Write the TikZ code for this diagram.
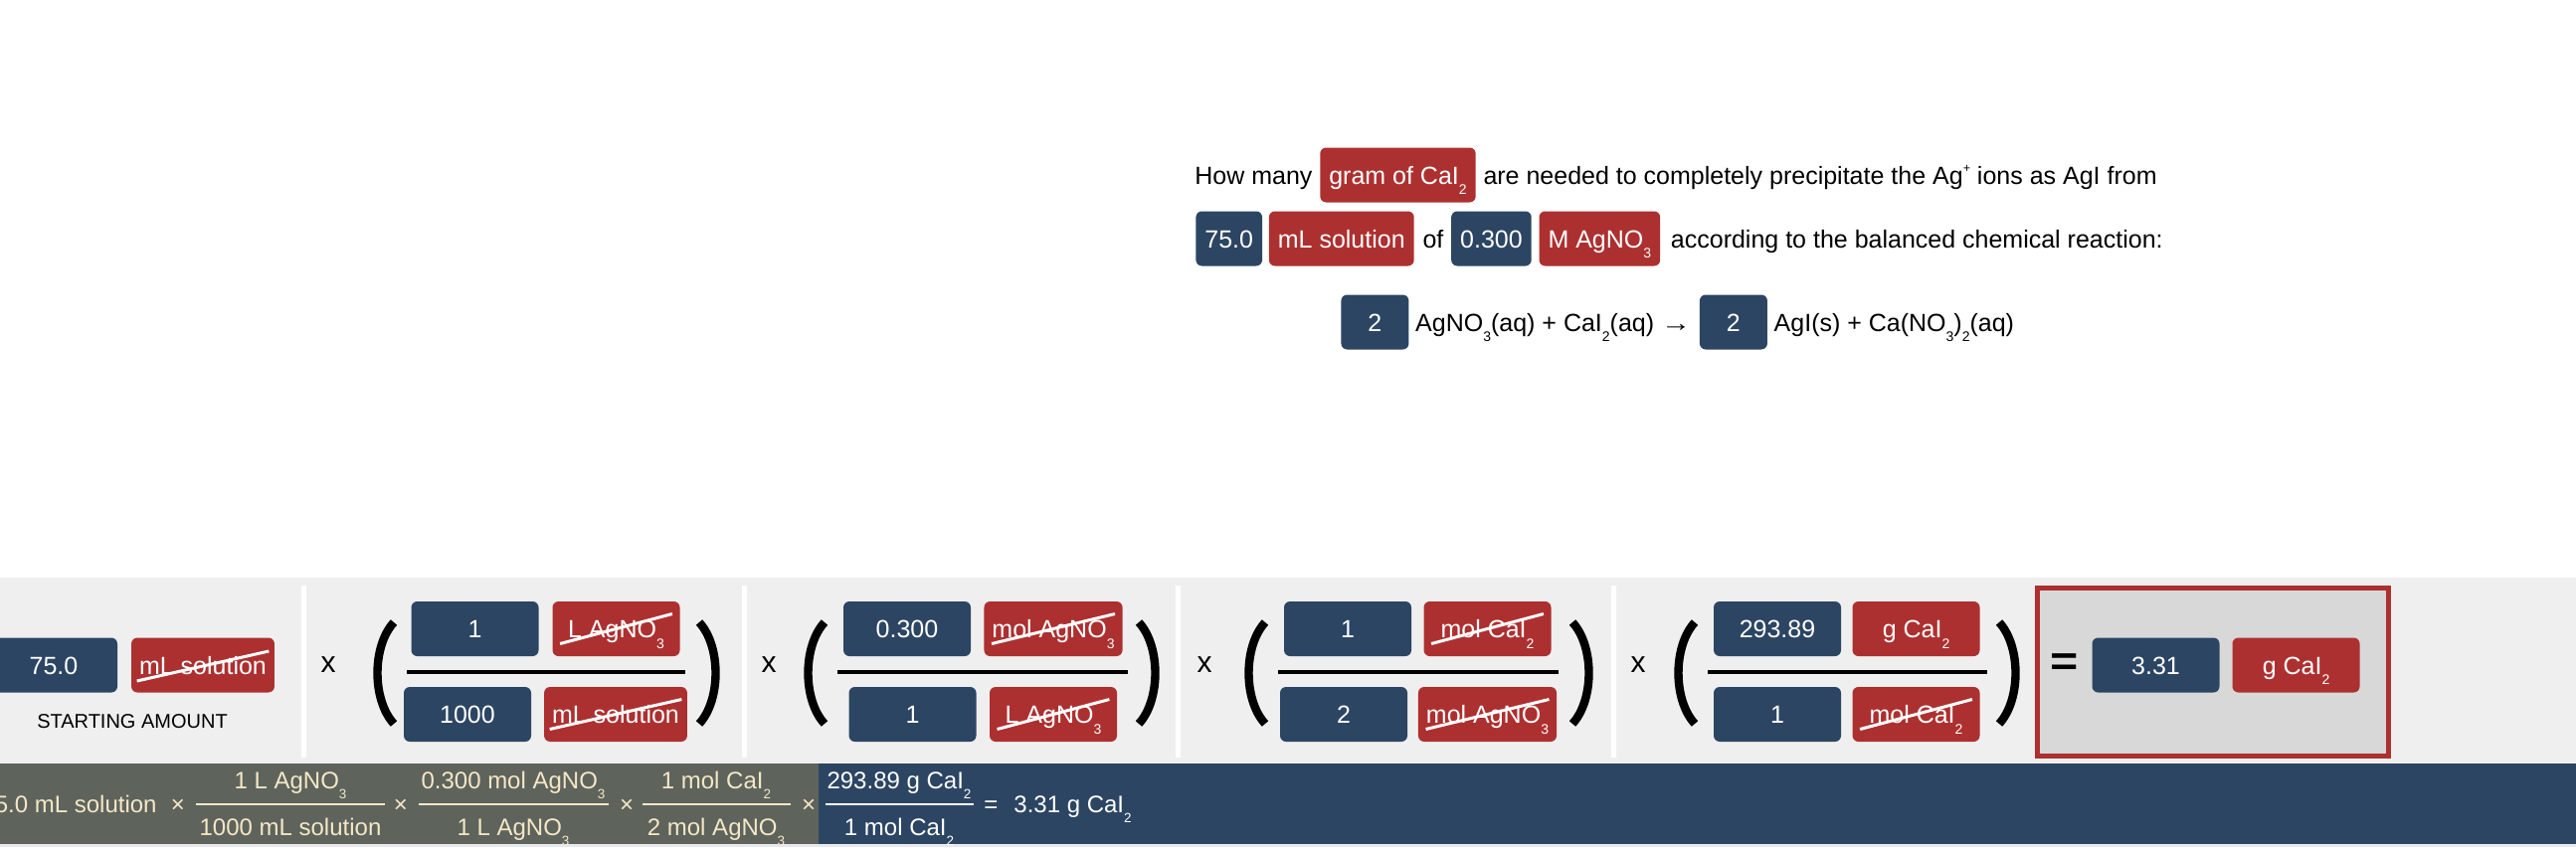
\documentclass[tikz,border=0pt]{standalone}
\usepackage{graphicx}
\usepackage{fontspec}
\setmainfont{Liberation Sans}
\usetikzlibrary{positioning}
\definecolor{cblue}{HTML}{2C4563}
\definecolor{cred}{HTML}{AD3030}
\definecolor{cband}{HTML}{EFEFEF}
\definecolor{cres}{HTML}{D8D8D8}
\definecolor{cgg}{HTML}{5E645C}
\definecolor{ccream}{HTML}{F5E7C6}
\definecolor{cstrip}{HTML}{E6EAEE}
\newcommand\csub[1]{\raisebox{-0.42em}{\scalebox{0.56}{#1}}}
\newcommand\csup[1]{\raisebox{0.45em}{\scalebox{0.5}{#1}}}
\newcommand\larr{\scalebox{1.2}[1]{→}}
\tikzset{
  txt/.style={inner sep=0pt, font=\fontsize{12.5pt}{15pt}\selectfont, text height=9pt, text depth=0pt},
  bx/.style={txt, rounded corners=3pt, text=white, minimum height=27.5pt, inner xsep=4.5pt},
  bb/.style={bx, fill=cblue},
  rb/.style={bx, fill=cred},
  fb/.style={minimum width=64pt, inner xsep=4pt},
  strike/.style={draw=white, line width=1.5pt},
  parenline/.style={line width=4.2pt, black},
  fracl/.style={line width=2pt, black},
  bt/.style={inner sep=0pt, font=\fontsize{12pt}{14pt}\selectfont, text=ccream},
  btw/.style={bt, text=white},
  mult/.style={inner sep=0pt, font=\fontsize{15pt}{18pt}\selectfont},
  lparen/.pic={\draw[parenline] (23,-51) .. controls (1,-27) and (1,27) .. (23,51);},
  rparen/.pic={\draw[parenline] (4,-51) .. controls (26,-27) and (26,27) .. (4,51);},
}
\begin{document}
\begin{tikzpicture}[x=0.5pt,y=-0.5pt]
\useasboundingbox (0,0) rectangle (2590,852);
\fill[white] (0,0) rectangle (2590,852);

% ---------- question ----------
\node[txt, anchor=west] (q1) at (1201,176) {How many};
\node[rb, right=3.5pt of q1] (q2) {gram of CaI\csub{2}};
\node[txt, right=3.5pt of q2] (q3) {are needed to completely precipitate the Ag\csup{+} ions as AgI from};

\node[bb, anchor=west] (p1) at (1202,240) {75.0};
\node[rb, right=3pt of p1] (p2) {mL solution};
\node[txt, right=4pt of p2] (p3) {of};
\node[bb, right=3.5pt of p3] (p4) {0.300};
\node[rb, right=3.5pt of p4] (p5) {M AgNO\csub{3}};
\node[txt, right=5pt of p5] (p6) {according to the balanced chemical reaction:};

\node[bb, minimum width=34pt, anchor=west] (r1) at (1348,324) {2};
\node[txt, right=3pt of r1] (r2) {AgNO\csub{3}(aq) + CaI\csub{2}(aq) \larr};
\node[bb, minimum width=34pt, right=4pt of r2] (r3) {2};
\node[txt, right=3pt of r3] (r4) {AgI(s) + Ca(NO\csub{3})\csub{2}(aq)};

% ---------- calculation band ----------
\fill[cband] (0,581) rectangle (2590,768);
\foreach \dx in {305,748,1184,1622} \fill[white] (\dx-2.5,589) rectangle (\dx+2.5,762);

\node[bb, fb] (s1) at (54,669) {75.0};
\node[rb, fb] (s2) at (204,669) {mL solution};
\draw[strike] ([shift={(6,16)}]s2.west) -- ([shift={(-6,-14)}]s2.east);
\node[inner sep=0pt, font=\fontsize{10pt}{12pt}\selectfont] (st) at (133,726) {STARTING AMOUNT};

% fraction 1
\node[mult] (x1) at (330,669) {x};
\pic at (373,677) {lparen};
\node[bb, fb] (f1a) at (477.5,632.5) {1};
\node[rb, fb] (f1b) at (619.5,632.5) {L AgNO\csub{3}};
\node[bb, fb] (f1c) at (470,718.5) {1000};
\node[rb, fb] (f1d) at (619,718.5) {mL solution};
\draw[strike] ([shift={(8,15)}]f1b.west) -- ([shift={(-8,-15)}]f1b.east);
\draw[strike] ([shift={(6,15)}]f1d.west) -- ([shift={(-6,-15)}]f1d.east);
\draw[fracl] (409,676) -- (689,676);
\pic at (699,677) {rparen};

% fraction 2
\node[mult] (x2) at (773,669) {x};
\pic at (806,677) {lparen};
\node[bb, fb] (f2a) at (912,632.5) {0.300};
\node[rb, fb] (f2b) at (1059,632.5) {mol AgNO\csub{3}};
\node[bb, fb] (f2c) at (917.5,718.5) {1};
\node[rb, fb] (f2d) at (1059,718.5) {L AgNO\csub{3}};
\draw[strike] ([shift={(8,15)}]f2b.west) -- ([shift={(-8,-15)}]f2b.east);
\draw[strike] ([shift={(8,15)}]f2d.west) -- ([shift={(-8,-15)}]f2d.east);
\draw[fracl] (842,676) -- (1134,676);
\pic at (1141,677) {rparen};

% fraction 3
\node[mult] (x3) at (1211,669) {x};
\pic at (1249,677) {lparen};
\node[bb, fb] (f3a) at (1355,632.5) {1};
\node[rb, fb] (f3b) at (1495.5,632.5) {mol CaI\csub{2}};
\node[bb, fb] (f3c) at (1351,718.5) {2};
\node[rb, fb] (f3d) at (1495.5,718.5) {mol AgNO\csub{3}};
\draw[strike] ([shift={(8,15)}]f3b.west) -- ([shift={(-8,-15)}]f3b.east);
\draw[strike] ([shift={(8,15)}]f3d.west) -- ([shift={(-8,-15)}]f3d.east);
\draw[fracl] (1285,676) -- (1567,676);
\pic at (1577,677) {rparen};

% fraction 4
\node[mult] (x4) at (1647,669) {x};
\pic at (1681,677) {lparen};
\node[bb, fb] (f4a) at (1787,632.5) {293.89};
\node[rb, fb] (f4b) at (1926.5,632.5) {g CaI\csub{2}};
\node[bb, fb] (f4c) at (1787,718.5) {1};
\node[rb, fb] (f4d) at (1926.5,718.5) {mol CaI\csub{2}};
\draw[strike] ([shift={(8,15)}]f4d.west) -- ([shift={(-8,-15)}]f4d.east);
\draw[fracl] (1717,676) -- (1998,676);
\pic at (2006,677) {rparen};

% result
\draw[cred, line width=2.5pt, fill=cres] (2048.5,591.5) rectangle (2401.5,760.5);
\node[inner sep=0pt, font=\bfseries\fontsize{21pt}{21pt}\selectfont] (eq) at (2076,669) {\scalebox{1.15}[1]{=}};
\node[bb, fb] (ra) at (2167.5,669) {3.31};
\node[rb, fb] (rr) at (2308.5,669) {g CaI\csub{2}};

% ---------- summary bar ----------
\fill[cgg] (0,768) rectangle (823,849);
\fill[cblue] (823,768) rectangle (2590,849);
\fill[cstrip] (0,849) rectangle (2590,852);

\node[bt, anchor=base east] (b0) at (158,817) {75.0 mL solution};
\node[bt, anchor=base] (bx1) at (179,817) {×};
\node[bt, anchor=base] (b1n) at (292,793) {1 L AgNO\csub{3}};
\node[bt, anchor=base] (b1d) at (292,840) {1000 mL solution};
\draw[ccream, line width=1pt] (197,809) -- (387,809);
\node[bt, anchor=base] (bx2) at (403,817) {×};
\node[bt, anchor=base] (b2n) at (516,793) {0.300 mol AgNO\csub{3}};
\node[bt, anchor=base] (b2d) at (516,840) {1 L AgNO\csub{3}};
\draw[ccream, line width=1pt] (421,809) -- (612,809);
\node[bt, anchor=base] (bx3) at (630,817) {×};
\node[bt, anchor=base] (b3n) at (720,793) {1 mol CaI\csub{2}};
\node[bt, anchor=base] (b3d) at (720,840) {2 mol AgNO\csub{3}};
\draw[ccream, line width=1pt] (646,809) -- (795,809);
\node[bt, anchor=base] (bx4) at (813,817) {×};
\node[btw, anchor=base] (b4n) at (904,793) {293.89 g CaI\csub{2}};
\node[btw, anchor=base] (b4d) at (904,840) {1 mol CaI\csub{2}};
\draw[white, line width=1pt] (830,809) -- (979,809);
\node[btw, anchor=base west] (b5) at (989,817) {=\hspace{8pt}3.31 g CaI\csub{2}};
\end{tikzpicture}
\end{document}
